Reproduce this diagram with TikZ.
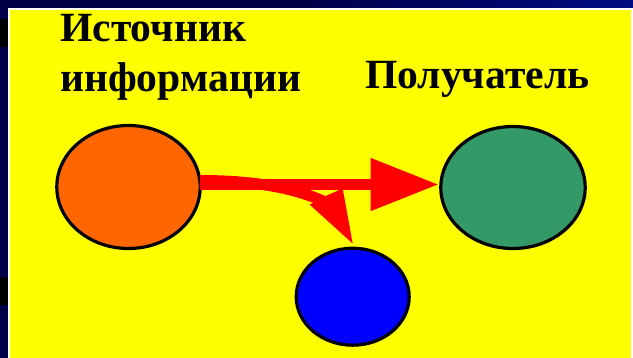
\documentclass[tikz,border=0pt]{standalone}
\usepackage{fontspec}
\setmainfont{Liberation Serif}
\usetikzlibrary{shapes.geometric,arrows.meta,calc}

\definecolor{slidenavy}{RGB}{0,0,72}
\definecolor{slideblue}{RGB}{0,10,130}
\definecolor{paneyellow}{RGB}{255,255,0}
\definecolor{srcorange}{RGB}{255,102,0}
\definecolor{dstgreen}{RGB}{51,153,102}
\definecolor{tapblue}{RGB}{0,0,255}
\definecolor{flowred}{RGB}{255,0,0}

\tikzset{
  party/.style={ellipse, draw=black, line width=3.2pt, inner sep=0pt},
  caption/.style={anchor=base west, inner sep=0pt, font=\fontsize{41.6}{50}\selectfont\bfseries},
  flow/.style={draw=flowred, line width=11pt},
}

\begin{document}
\begin{tikzpicture}[x=1pt, y=-1pt]
  \useasboundingbox (0,0) rectangle (633,358);

  % slide background and its top strip
  \fill[slidenavy] (0,0) rectangle (633,358);
  \shade[left color=slidenavy, right color=slideblue] (300,0) rectangle (633,8);
  \fill[black] (0,19) rectangle (8,47);
  \fill[black] (0,277) rectangle (8,305);

  % yellow pane with a thin white rim
  \fill[white] (8,8) rectangle (634,359);
  \fill[paneyellow] (10,10) rectangle (631,359);

  % captions
  \node[caption] (srctext1) at (60,41.7) {Источник};
  \node[caption] (srctext2) at (60,92) {информации};
  \node[caption] (dsttext) at (365,88.3) {Получатель};

  % the three parties
  \node[party, fill=srcorange, minimum width=143.4pt, minimum height=123pt] (src) at (128.5,187) {};
  \node[party, fill=dstgreen, minimum width=144.4pt, minimum height=122pt] (dst) at (513,187.5) {};
  \node[party, fill=tapblue, minimum width=113pt, minimum height=97pt] (tap) at (352.7,296.7) {};

  % branch that bends down to the lower party
  \draw[flow] ($(src.east)+(-2,-6.5)$)
     .. controls ($(src.east)+(48,-6.5)$) and ($(src.east)+(90,-0.5)$)
     .. ($(tap.north)+(-26,-44)$);
  \fill[flowred] ($(tap.north)+(0,-3)$) -- ($(tap.north)+(-43,-42)$)
     -- ($(tap.north)+(-24,-52)$) -- ($(tap.north)+(-10,-58)$) -- cycle;

  % main flow from source to receiver
  \draw[flow, -{Triangle[length=68pt, width=50pt]}]
     ($(src.east)+(-2,-2.5)$) -- ($(dst.west)+(-0.5,-3)$);
\end{tikzpicture}
\end{document}
